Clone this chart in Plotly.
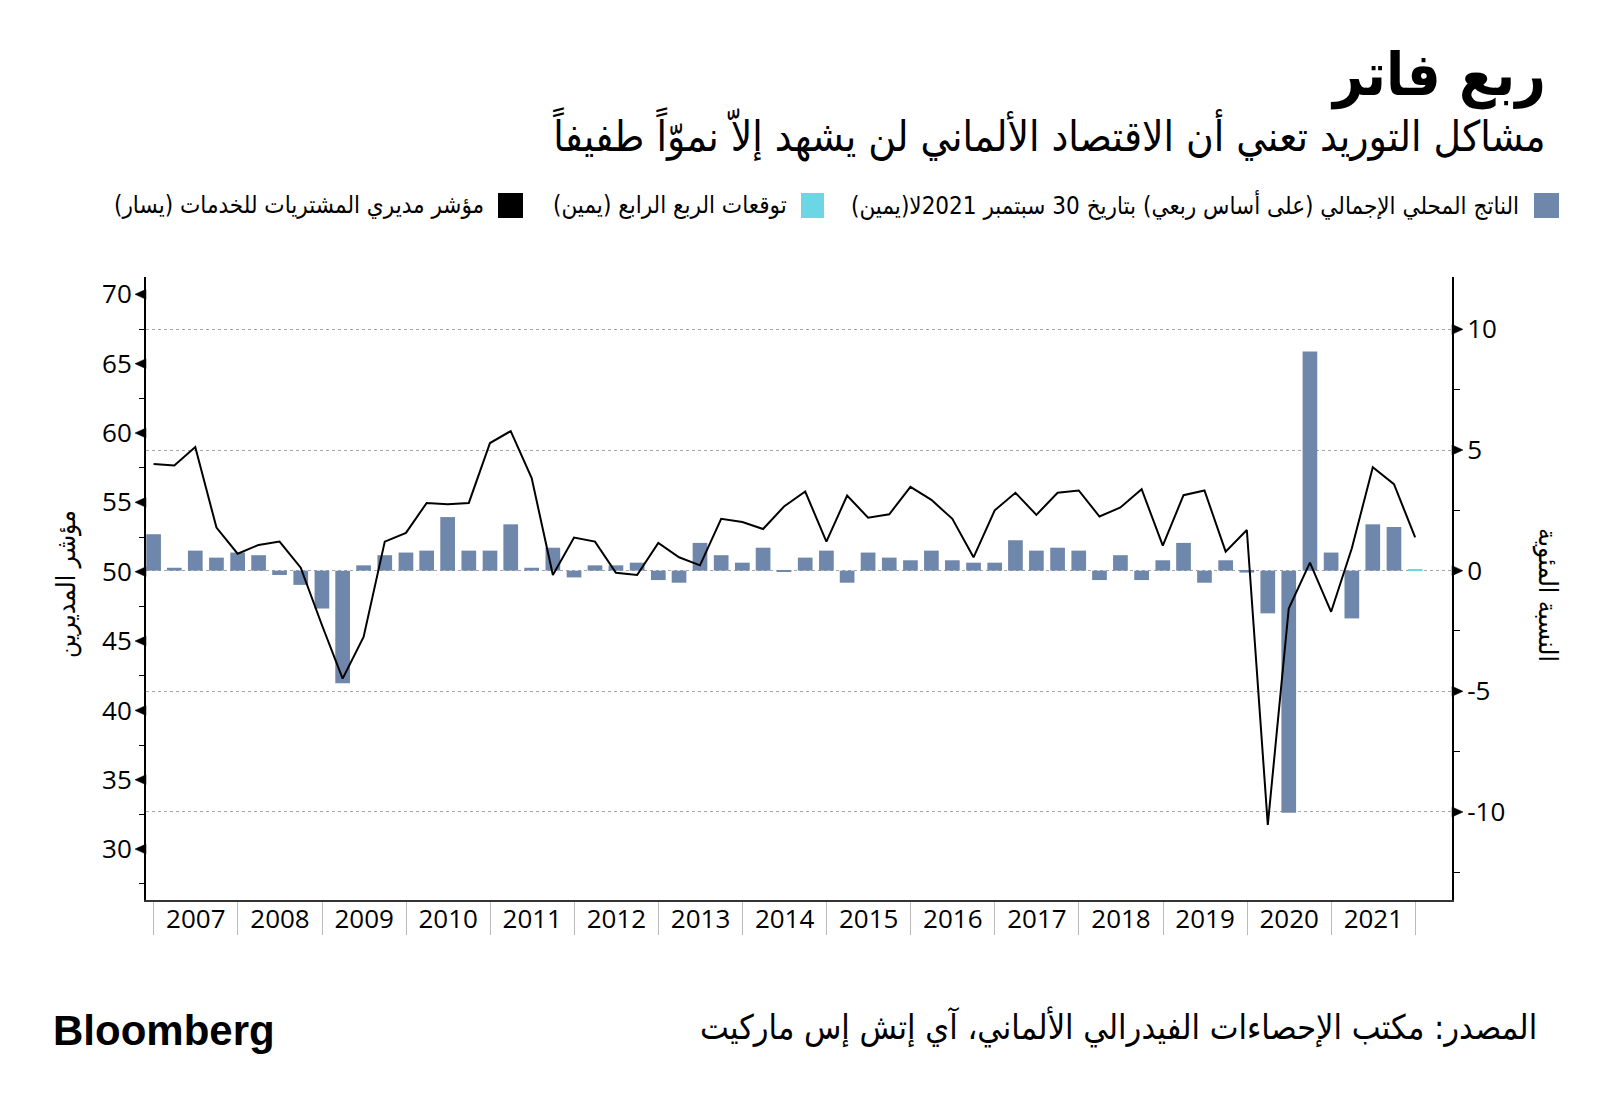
import plotly.graph_objects as go
import pandas as pd

# ---------------- data ----------------
quarters = [
    "2006Q4",
    "2007Q1", "2007Q2", "2007Q3", "2007Q4",
    "2008Q1", "2008Q2", "2008Q3", "2008Q4",
    "2009Q1", "2009Q2", "2009Q3", "2009Q4",
    "2010Q1", "2010Q2", "2010Q3", "2010Q4",
    "2011Q1", "2011Q2", "2011Q3", "2011Q4",
    "2012Q1", "2012Q2", "2012Q3", "2012Q4",
    "2013Q1", "2013Q2", "2013Q3", "2013Q4",
    "2014Q1", "2014Q2", "2014Q3", "2014Q4",
    "2015Q1", "2015Q2", "2015Q3", "2015Q4",
    "2016Q1", "2016Q2", "2016Q3", "2016Q4",
    "2017Q1", "2017Q2", "2017Q3", "2017Q4",
    "2018Q1", "2018Q2", "2018Q3", "2018Q4",
    "2019Q1", "2019Q2", "2019Q3", "2019Q4",
    "2020Q1", "2020Q2", "2020Q3", "2020Q4",
    "2021Q1", "2021Q2", "2021Q3", "2021Q4",
]

# GDP q/q % (right axis), 2006Q4 .. 2021Q3
gdp_qoq = [
    1.51,
    0.12, 0.83, 0.54, 0.75,
    0.64, -0.18, -0.59, -1.57,
    -4.67, 0.22, 0.64, 0.75,
    0.83, 2.22, 0.83, 0.83,
    1.92, 0.12, 0.95, -0.28,
    0.22, 0.22, 0.33, -0.39,
    -0.50, 1.15, 0.64, 0.33,
    0.95, -0.03, 0.54, 0.83,
    -0.50, 0.75, 0.54, 0.43,
    0.83, 0.43, 0.33, 0.33,
    1.26, 0.83, 0.95, 0.83,
    -0.39, 0.64, -0.39, 0.43,
    1.15, -0.50, 0.43, -0.08,
    -1.77, -10.03, 9.08, 0.75,
    -1.98, 1.92, 1.81,
]

# Q4 forecast (right axis)
forecast_quarters = ["2021Q4"]
forecast_q4 = [0.05]

# Services PMI (left axis), 2006Q4 .. 2021Q4
pmi_services = [
    57.76,
    57.66, 58.99, 53.18, 51.30,
    51.93, 52.17, 50.29, 46.16,
    42.29, 45.30, 52.17, 52.80,
    54.96, 54.87, 54.96, 59.28,
    60.14, 56.75, 49.76, 52.46,
    52.17, 49.93, 49.76, 52.07,
    51.04, 50.46, 53.81, 53.59,
    53.08, 54.70, 55.78, 52.17,
    55.49, 53.90, 54.14, 56.12,
    55.18, 53.81, 51.04, 54.43,
    55.69, 54.10, 55.69, 55.86,
    53.98, 54.63, 55.95, 51.88,
    55.52, 55.86, 51.45, 53.01,
    31.74, 47.35, 50.65, 47.11,
    51.69, 57.54, 56.31, 52.48,
]

left_ticks = [30, 35, 40, 45, 50, 55, 60, 65, 70]
left_minor = [27.5, 32.5, 37.5, 42.5, 47.5, 52.5, 57.5, 62.5, 67.5]
right_ticks = [-10, -5, 0, 5, 10]
right_labels = ["-10", "-5", "0", "5", "10"]
right_minor = [-12.5, -7.5, -2.5, 2.5, 7.5]

title_text = "ربع فاتر"
subtitle_text = "مشاكل التوريد تعني أن الاقتصاد الألماني لن يشهد إلاّ نموّاً طفيفاً"
legend_gdp = "الناتج المحلي الإجمالي (على أساس ربعي) بتاريخ 30 سبتمبر 2021لا(يمين)"
legend_fc = "توقعات الربع الرابع (يمين)"
legend_pmi = "مؤشر مديري المشتريات للخدمات (يسار)"
left_title = "مؤشر المديرين"
right_title = "النسبة المئوية"
source_text = "المصدر: مكتب الإحصاءات الفيدرالي الألماني، آي إتش إس ماركيت"

BAR_COLOR = "#6f87aa"
FC_COLOR = "#6dd6e4"
GRID = "#a6a6a6"

def q_end(q):
    return pd.Period(q, freq="Q").end_time.normalize()

dates = [q_end(q) for q in quarters]
gdp_dates = dates[:len(gdp_qoq)]
fc_dates = [q_end(q) for q in forecast_quarters]

# ---------------- layout geometry (pixels) ----------------
W, H = 1600, 1108
L, R, T, B = 146, 1452, 277, 900

def px(x):
    return (x - L) / (R - L)

def py(y):
    return (B - y) / (B - T)

bar_w = 63.8 * 86400000  # ms

fig = go.Figure()
fig.add_trace(go.Bar(x=gdp_dates, y=gdp_qoq, yaxis="y", width=bar_w,
                     marker=dict(color=BAR_COLOR, line=dict(width=0)),
                     name="gdp"))
fig.add_trace(go.Bar(x=fc_dates, y=forecast_q4, yaxis="y", width=bar_w,
                     marker=dict(color=FC_COLOR, line=dict(width=0)),
                     name="forecast"))
fig.add_trace(go.Scatter(x=dates, y=pmi_services, yaxis="y2", mode="lines",
                         line=dict(color="black", width=2), name="pmi"))

tick_font = dict(family="Open Sans", size=26, color="black")

fig.update_layout(
    width=W, height=H,
    margin=dict(l=L, r=W - R, t=T, b=H - B, autoexpand=False),
    paper_bgcolor="white", plot_bgcolor="white",
    showlegend=False, barmode="overlay",
    xaxis=dict(
        type="date", range=["2006-11-28", "2022-06-09"],
        tick0="2007-01-01", dtick="M12", tickformat="%Y",
        ticklabelmode="period", ticks="outside", ticklen=33,
        tickcolor="#bbbbbb", tickwidth=1, ticklabelstandoff=-38,
        tickfont=tick_font, showline=True, linecolor="#333333", linewidth=2,
        showgrid=False, zeroline=False, automargin=False,
        minor=dict(tick0="2008-01-01", dtick="M24", showgrid=True,
                   gridcolor=GRID, griddash="dot", gridwidth=1, ticks=""),
    ),
    yaxis=dict(
        side="right", range=[-13.65, 12.17],
        tickmode="array", tickvals=right_ticks, ticktext=right_labels,
        ticks="outside", ticklen=8, tickcolor="rgba(0,0,0,0)",
        tickfont=tick_font, showline=True, linecolor="black", linewidth=2,
        showgrid=True, gridcolor=GRID, griddash="dot", gridwidth=1,
        zeroline=False, automargin=False,
        minor=dict(tickmode="array", tickvals=right_minor, ticks="outside",
                   ticklen=6, tickcolor="black", tickwidth=1, showgrid=False),
    ),
    yaxis2=dict(
        side="left", overlaying="y", range=[26.33, 71.25],
        tickmode="array", tickvals=left_ticks,
        ticks="outside", ticklen=7, tickcolor="rgba(0,0,0,0)",
        tickfont=tick_font, showline=True, linecolor="black", linewidth=2,
        showgrid=False, zeroline=False, automargin=False,
        minor=dict(tickmode="array", tickvals=left_minor, ticks="outside",
                   ticklen=5, tickcolor="black", tickwidth=1, showgrid=False),
    ),
)

shapes = []
for v in left_ticks:
    shapes.append(dict(type="path", xref="paper", yref="y2",
                       xsizemode="pixel", ysizemode="pixel",
                       xanchor=0, yanchor=v, path="M0,-5 L0,5 L-11,0 Z",
                       fillcolor="black", line=dict(width=0.5, color="black")))
for v in right_ticks:
    shapes.append(dict(type="path", xref="paper", yref="y",
                       xsizemode="pixel", ysizemode="pixel",
                       xanchor=1, yanchor=v, path="M0,-5 L0,5 L11,0 Z",
                       fillcolor="black", line=dict(width=0.5, color="black")))

# legend swatches
for (x0, x1, col) in [(1534, 1559, BAR_COLOR), (801, 824, FC_COLOR), (498, 523, "black")]:
    shapes.append(dict(type="rect", xref="paper", yref="paper",
                       x0=px(x0), x1=px(x1), y0=py(218), y1=py(193),
                       fillcolor=col, line=dict(width=0)))
fig.update_layout(shapes=shapes)

AR = "DejaVu Sans Condensed"
ann = []
ann.append(dict(text="<b>" + title_text + "</b>", x=px(1548), y=py(75),
                font=dict(family=AR, size=59, color="black")))
ann.append(dict(text=subtitle_text, x=px(1548), y=py(134),
                font=dict(family=AR, size=42, color="black")))
ann.append(dict(text=legend_gdp, x=px(1521), y=py(205),
                font=dict(family=AR, size=24, color="black")))
ann.append(dict(text=legend_fc, x=px(789), y=py(205),
                font=dict(family=AR, size=24, color="black")))
ann.append(dict(text=legend_pmi, x=px(486), y=py(205),
                font=dict(family=AR, size=24, color="black")))
ann.append(dict(text=source_text, x=px(1539), y=py(1027),
                font=dict(family=AR, size=34, color="black")))
for a in ann:
    a.update(xref="paper", yref="paper", xanchor="right", yanchor="middle",
             showarrow=False)

ann.append(dict(text="<b>Bloomberg</b>", x=px(51), y=py(1030), xref="paper", yref="paper",
                xanchor="left", yanchor="middle", showarrow=False,
                font=dict(family="Liberation Sans", size=42, color="black")))
ann.append(dict(text=left_title, x=px(66), y=py(584), xref="paper", yref="paper",
                xanchor="center", yanchor="middle", showarrow=False, textangle=-90,
                font=dict(family=AR, size=26, color="black")))
ann.append(dict(text=right_title, x=px(1548), y=py(595), xref="paper", yref="paper",
                xanchor="center", yanchor="middle", showarrow=False, textangle=90,
                font=dict(family=AR, size=26, color="black")))
fig.update_layout(annotations=ann)

fig.write_html("out.html", config={"displayModeBar": False},
               post_script="document.body.style.margin='0';document.body.style.padding='0';")
